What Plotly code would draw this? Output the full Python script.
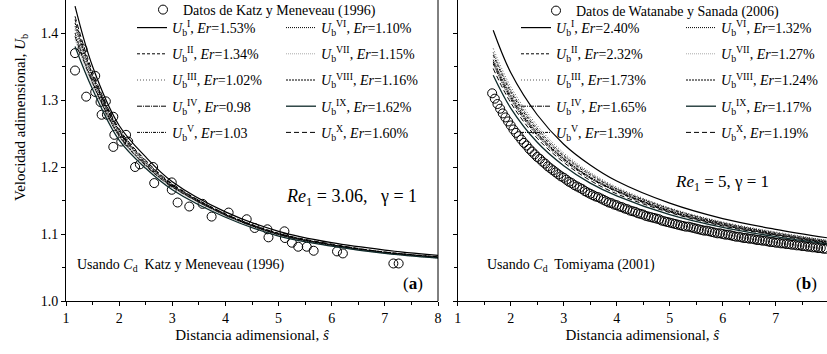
import plotly.graph_objects as go

W, H = 827, 354
FONT = "Liberation Serif"

# ---------------- data: panel (a) ----------------
katz_x = [1.17, 1.31, 1.17, 1.38, 1.55, 1.55, 1.65, 1.75, 1.67, 1.77, 1.89, 1.91, 1.89, 2.04,
          2.13, 2.17, 2.30, 2.39, 2.64, 2.66, 2.99, 2.99, 3.10, 3.32, 3.57, 3.74, 4.06, 4.40,
          4.55, 4.79, 4.81, 5.11, 5.12, 5.25, 5.37, 5.53, 5.66, 6.10, 6.21, 7.16, 7.26]
katz_y = [1.370, 1.376, 1.344, 1.305, 1.336, 1.312, 1.297, 1.298, 1.278, 1.278, 1.275, 1.248,
          1.230, 1.238, 1.248, 1.238, 1.200, 1.204, 1.200, 1.176, 1.177, 1.166, 1.147, 1.141,
          1.145, 1.126, 1.132, 1.122, 1.109, 1.107, 1.095, 1.104, 1.094, 1.087, 1.081, 1.081,
          1.075, 1.074, 1.071, 1.056, 1.056]

a_s = [1.17, 1.5, 2.0, 2.5, 3.0, 4.0, 5.0, 6.0, 7.0, 8.0]
a_I    = [1.440, 1.350, 1.262, 1.215, 1.178, 1.133, 1.104, 1.087, 1.076, 1.068]
a_II   = [1.420, 1.338, 1.255, 1.209, 1.174, 1.130, 1.101, 1.084, 1.073, 1.066]
a_III  = [1.405, 1.330, 1.250, 1.205, 1.172, 1.129, 1.100, 1.083, 1.072, 1.065]
a_IV   = [1.395, 1.325, 1.246, 1.202, 1.170, 1.128, 1.099, 1.083, 1.072, 1.065]
a_V    = [1.400, 1.327, 1.248, 1.203, 1.171, 1.128, 1.099, 1.083, 1.072, 1.065]
a_VI   = [1.410, 1.333, 1.252, 1.206, 1.172, 1.129, 1.100, 1.084, 1.072, 1.065]
a_VII  = [1.390, 1.322, 1.245, 1.201, 1.169, 1.127, 1.098, 1.082, 1.071, 1.064]
a_VIII = [1.415, 1.336, 1.254, 1.207, 1.173, 1.129, 1.100, 1.084, 1.073, 1.065]
a_IX   = [1.380, 1.316, 1.240, 1.198, 1.166, 1.125, 1.097, 1.082, 1.071, 1.064]
a_X    = [1.425, 1.342, 1.257, 1.210, 1.175, 1.130, 1.101, 1.085, 1.073, 1.066]
a_err = ["1.53%", "1.34%", "1.02%", "0.98", "1.03", "1.10%", "1.15%", "1.16%", "1.62%", "1.60%"]

# ---------------- data: panel (b) ----------------
wat_x = [1.65, 1.70, 1.75, 1.80, 1.85, 1.90, 1.95, 2.00, 2.05, 2.10, 2.15, 2.20, 2.25, 2.30,
         2.35, 2.40, 2.45, 2.50, 2.55, 2.60, 2.65, 2.70, 2.75, 2.80, 2.85, 2.90, 2.95, 3.00,
         3.05, 3.10, 3.15, 3.20, 3.25, 3.30, 3.35, 3.40, 3.45, 3.50, 3.55, 3.60, 3.65, 3.70,
         3.75, 3.80, 3.85, 3.90, 3.95, 4.00, 4.05, 4.10, 4.15, 4.20, 4.25, 4.30, 4.35, 4.40,
         4.45, 4.50, 4.55, 4.60, 4.65, 4.70, 4.75, 4.80, 4.85, 4.90, 4.95, 5.00, 5.05, 5.10,
         5.15, 5.20, 5.25, 5.30, 5.35, 5.40, 5.45, 5.50, 5.55, 5.60, 5.65, 5.70, 5.75, 5.80,
         5.85, 5.90, 5.95, 6.00, 6.05, 6.10, 6.15, 6.20, 6.25, 6.30, 6.35, 6.40, 6.45, 6.50,
         6.55, 6.60, 6.65, 6.70, 6.75, 6.80, 6.85, 6.90, 6.95, 7.00, 7.05, 7.10, 7.15, 7.20,
         7.25, 7.30, 7.35, 7.40, 7.45, 7.50, 7.55, 7.60, 7.65, 7.70, 7.75, 7.80, 7.85, 7.90,
         7.95]
wat_y = [1.310, 1.302, 1.294, 1.287, 1.280, 1.274, 1.268, 1.262, 1.256, 1.251, 1.246, 1.241,
         1.236, 1.232, 1.227, 1.223, 1.219, 1.215, 1.212, 1.208, 1.205, 1.201, 1.198, 1.195,
         1.192, 1.189, 1.186, 1.184, 1.181, 1.178, 1.176, 1.173, 1.171, 1.169, 1.167, 1.164,
         1.162, 1.160, 1.158, 1.156, 1.155, 1.153, 1.151, 1.149, 1.147, 1.146, 1.144, 1.143,
         1.141, 1.140, 1.138, 1.137, 1.135, 1.134, 1.133, 1.131, 1.130, 1.129, 1.127, 1.126,
         1.125, 1.124, 1.123, 1.122, 1.120, 1.119, 1.118, 1.117, 1.116, 1.115, 1.114, 1.113,
         1.112, 1.111, 1.111, 1.110, 1.109, 1.108, 1.107, 1.106, 1.105, 1.105, 1.104, 1.103,
         1.102, 1.101, 1.101, 1.100, 1.099, 1.099, 1.098, 1.097, 1.096, 1.096, 1.095, 1.094,
         1.094, 1.093, 1.093, 1.092, 1.091, 1.091, 1.090, 1.090, 1.089, 1.088, 1.088, 1.087,
         1.087, 1.086, 1.086, 1.085, 1.085, 1.084, 1.084, 1.083, 1.083, 1.082, 1.082, 1.081,
         1.081, 1.080, 1.080, 1.079, 1.079, 1.078, 1.078]

b_s = [1.67, 2.0, 2.5, 3.0, 3.5, 4.0, 5.0, 6.0, 7.0, 8.0]
b_I    = [1.404, 1.341, 1.278, 1.234, 1.203, 1.179, 1.146, 1.123, 1.107, 1.094]
b_II   = [1.367, 1.312, 1.255, 1.216, 1.188, 1.167, 1.137, 1.116, 1.101, 1.089]
b_III  = [1.377, 1.320, 1.262, 1.221, 1.192, 1.170, 1.139, 1.118, 1.103, 1.090]
b_IV   = [1.357, 1.304, 1.249, 1.212, 1.184, 1.164, 1.134, 1.114, 1.099, 1.088]
b_V    = [1.354, 1.301, 1.247, 1.210, 1.183, 1.163, 1.133, 1.113, 1.099, 1.087]
b_VI   = [1.371, 1.315, 1.258, 1.218, 1.190, 1.168, 1.138, 1.117, 1.102, 1.090]
b_VII  = [1.364, 1.309, 1.253, 1.215, 1.187, 1.166, 1.136, 1.115, 1.100, 1.089]
b_VIII = [1.360, 1.307, 1.251, 1.213, 1.185, 1.165, 1.135, 1.115, 1.100, 1.088]
b_IX   = [1.337, 1.288, 1.237, 1.202, 1.176, 1.157, 1.129, 1.110, 1.096, 1.085]
b_X    = [1.347, 1.296, 1.243, 1.207, 1.180, 1.160, 1.132, 1.112, 1.098, 1.086]
b_err = ["2.40%", "2.32%", "1.73%", "1.65%", "1.39%", "1.32%", "1.27%", "1.24%", "1.17%", "1.19%"]

numerals = ["I", "II", "III", "IV", "V", "VI", "VII", "VIII", "IX", "X"]

# ---------------- styles ----------------
styles = [
    dict(color="black", dash="solid", width=1.2),
    dict(color="black", dash="3px,2px", width=1),
    dict(color="#555555", dash="1px,2px", width=1),
    dict(color="black", dash="5px,1px,1px,1px", width=1),
    dict(color="black", dash="3px,1px,1px,1px,1px,1px", width=1),
    dict(color="black", dash="1px,1px", width=1),
    dict(color="#aaaaaa", dash="1px,1px", width=1),
    dict(color="black", dash="2px,1px", width=1),
    dict(color="#0f2a2a", dash="solid", width=1.3),
    dict(color="black", dash="5px,3px", width=1),
]

# geometry (pixels)
A_L, A_R = 66, 438
B_L, B_R = 457.7, 827
PLOT_BOTTOM = 301


def px_x(p):
    return p / W


def px_y(p):
    return 1 - p / H


fig = go.Figure()

fig.add_trace(go.Scatter(
    x=katz_x, y=katz_y, mode="markers", xaxis="x", yaxis="y",
    marker=dict(symbol="circle-open", size=9, color="black", line=dict(width=1)),
    name="Datos de Katz y Meneveau (1996)", legend="legend", legendgroup="a0"))

a_curves = [a_I, a_II, a_III, a_IV, a_V, a_VI, a_VII, a_VIII, a_IX, a_X]
for i, (yy, st) in enumerate(zip(a_curves, styles)):
    fig.add_trace(go.Scatter(
        x=a_s, y=yy, mode="lines", xaxis="x", yaxis="y",
        line=dict(color=st["color"], dash=st["dash"], width=st["width"], shape="spline", smoothing=1),
        name=f"<i>U</i><sub>b</sub><sup>{numerals[i]}</sup>, <i>Er</i>={a_err[i]}",
        legend="legend2" if i < 5 else "legend3", legendgroup=f"a{i+1}"))

fig.add_trace(go.Scatter(
    x=wat_x, y=wat_y, mode="markers", xaxis="x2", yaxis="y2",
    marker=dict(symbol="circle-open", size=9, color="black", line=dict(width=1)),
    name="Datos de Watanabe y Sanada (2006)", legend="legend4", legendgroup="b0"))

b_curves = [b_I, b_II, b_III, b_IV, b_V, b_VI, b_VII, b_VIII, b_IX, b_X]
for i, (yy, st) in enumerate(zip(b_curves, styles)):
    fig.add_trace(go.Scatter(
        x=b_s, y=yy, mode="lines", xaxis="x2", yaxis="y2",
        line=dict(color=st["color"], dash=st["dash"], width=st["width"], shape="spline", smoothing=1),
        name=f"<i>U</i><sub>b</sub><sup>{numerals[i]}</sup>, <i>Er</i>={b_err[i]}",
        legend="legend5" if i < 5 else "legend6", legendgroup=f"b{i+1}"))

axis_font = dict(family=FONT, size=14, color="black")
title_font = dict(family=FONT, size=15, color="black")
y_top = 1.0 + PLOT_BOTTOM / 670.0

common_x = dict(
    showgrid=False, zeroline=False, showline=True, linecolor="black", linewidth=1,
    ticks="outside", ticklen=4, tickwidth=1, tickcolor="black", dtick=1, tick0=1,
    minor=dict(ticks="outside", ticklen=3, dtick=0.5, tickcolor="black", tickwidth=1),
    tickfont=axis_font, automargin=False,
    title=dict(text="Distancia adimensional, <i>ŝ</i>", font=title_font, standoff=4),
)
common_y = dict(
    showgrid=False, zeroline=False, showline=True, linecolor="black", linewidth=1,
    ticks="outside", ticklen=4, tickwidth=1, tickcolor="black", dtick=0.1, tick0=1.0,
    minor=dict(ticks="outside", ticklen=3, dtick=0.05, tickcolor="black", tickwidth=1),
    tickfont=axis_font, range=[1.0, y_top], tickformat=".1f", automargin=False,
)

leg_common = dict(font=dict(family=FONT, size=14, color="black"), bgcolor="rgba(0,0,0,0)",
                  borderwidth=0, yanchor="top", xanchor="left", tracegroupgap=5,
                  orientation="v", itemclick=False)

fig.update_layout(
    template="none",
    width=W, height=H, margin=dict(l=0, r=0, t=0, b=0, autoexpand=False),
    paper_bgcolor="white", plot_bgcolor="white",
    font=dict(family=FONT, size=14, color="black"),
    xaxis=dict(common_x, domain=[px_x(A_L), px_x(A_R)], range=[1, 8], anchor="y"),
    yaxis=dict(common_y, domain=[px_y(PLOT_BOTTOM), 1], anchor="x", showticklabels=True),
    xaxis2=dict(common_x, domain=[px_x(B_L), 1.0], range=[1, 1 + (B_R - B_L) / 53.0], anchor="y2"),
    yaxis2=dict(common_y, domain=[px_y(PLOT_BOTTOM), 1], anchor="x2", showticklabels=False),
    legend=dict(leg_common, x=px_x(143), y=px_y(-6)),
    legend2=dict(leg_common, x=px_x(132), y=px_y(12)),
    legend3=dict(leg_common, x=px_x(281), y=px_y(12)),
    legend4=dict(leg_common, x=px_x(536), y=px_y(-5)),
    legend5=dict(leg_common, x=px_x(516), y=px_y(12)),
    legend6=dict(leg_common, x=px_x(681), y=px_y(12)),
    showlegend=True,
)

fig.add_shape(type="line", xref="paper", yref="paper", x0=px_x(A_R), x1=px_x(A_R),
              y0=px_y(PLOT_BOTTOM), y1=1, line=dict(color="black", width=1))

ann = [
    dict(text="Velocidad adimensional, <i>U</i><sub>b</sub>", x=px_x(21), y=px_y(118),
         textangle=-90, font=title_font),
    dict(text="<i>Re</i><sub>1</sub> = 3.06,&nbsp;&nbsp;&nbsp;γ = 1", x=px_x(351), y=px_y(197),
         font=dict(family=FONT, size=18, color="black")),
    dict(text="<i>Re</i><sub>1</sub> = 5, γ = 1", x=px_x(722), y=px_y(183),
         font=dict(family=FONT, size=17, color="black")),
    dict(text="Usando <i>C</i><sub>d</sub>  Katz y Meneveau (1996)", x=px_x(180), y=px_y(265),
         font=dict(family=FONT, size=14, color="black")),
    dict(text="Usando <i>C</i><sub>d</sub>  Tomiyama (2001)", x=px_x(571), y=px_y(265),
         font=dict(family=FONT, size=14, color="black")),
    dict(text="(<b>a</b>)", x=px_x(413), y=px_y(283), font=dict(family=FONT, size=17, color="black")),
    dict(text="(<b>b</b>)", x=px_x(806), y=px_y(283), font=dict(family=FONT, size=17, color="black")),
]
for a in ann:
    fig.add_annotation(xref="paper", yref="paper", showarrow=False, xanchor="center", yanchor="middle", **a)

fig.write_html("out.html")
